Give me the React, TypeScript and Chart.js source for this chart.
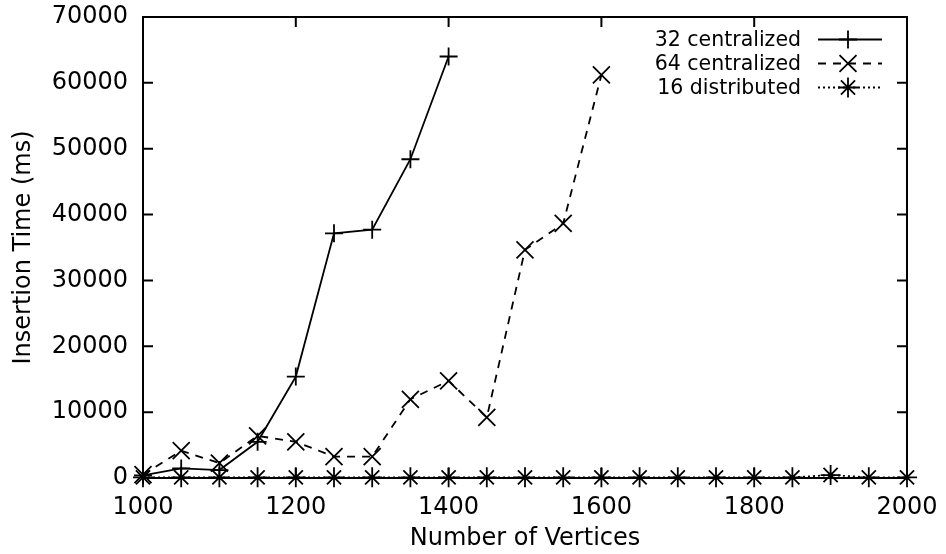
import React, { useEffect, useRef } from 'react';
import { Chart, registerables } from 'chart.js';
import { drawPoint } from 'chart.js/helpers';

Chart.register(...registerables);

const FONT_FAMILY = '"DejaVu Sans", sans-serif';

// Number of vertices (x) for each series
const vertices32 = [1000, 1050, 1100, 1150, 1200, 1250, 1300, 1350, 1400];
const vertices64 = [1000, 1050, 1100, 1150, 1200, 1250, 1300, 1350, 1400, 1450, 1500, 1550, 1600];
const vertices16 = [1000, 1050, 1100, 1150, 1200, 1250, 1300, 1350, 1400, 1450, 1500, 1550, 1600, 1650, 1700, 1750, 1800, 1850, 1900, 1950, 2000];

// Insertion time (ms)
const time32 = [400, 1450, 1200, 5500, 15400, 37150, 37700, 48400, 64000];
const time64 = [500, 4150, 2250, 6400, 5500, 3250, 3250, 11950, 14750, 9200, 34650, 38650, 61200];
const time16 = [100, 100, 100, 100, 100, 100, 100, 100, 100, 100, 100, 100, 100, 100, 100, 100, 100, 100, 450, 100, 100];

const seriesLabels = ['32 centralized', '64 centralized', '16 distributed'];

const xMin = 1000;
const xMax = 2000;
const xStep = 200;
const yMin = 0;
const yMax = 70000;
const yStep = 10000;

const xTitle = 'Number of Vertices';
const yTitle = 'Insertion Time (ms)';

const toPoints = (xs: number[], ys: number[]) => xs.map((x, i) => ({ x, y: ys[i] }));

const framePlugin = {
  id: 'gnuplotFrame',
  beforeDatasetsDraw(chart: any) {
    const { ctx, chartArea } = chart;
    const { left, right, top, bottom } = chartArea;
    const tick = 10;
    ctx.save();
    ctx.strokeStyle = '#000';
    ctx.lineWidth = 2;
    ctx.strokeRect(left, top, right - left, bottom - top);
    ctx.beginPath();
    const xs = chart.scales.x;
    const ys = chart.scales.y;
    xs.ticks.forEach((t: any) => {
      const px = xs.getPixelForValue(t.value);
      ctx.moveTo(px, bottom);
      ctx.lineTo(px, bottom - tick);
      ctx.moveTo(px, top);
      ctx.lineTo(px, top + tick);
    });
    ys.ticks.forEach((t: any) => {
      const py = ys.getPixelForValue(t.value);
      ctx.moveTo(left, py);
      ctx.lineTo(left + tick, py);
      ctx.moveTo(right, py);
      ctx.lineTo(right - tick, py);
    });
    ctx.stroke();
    ctx.restore();
  },
};

const legendPlugin = {
  id: 'gnuplotLegend',
  afterDatasetsDraw(chart: any) {
    const { ctx, chartArea } = chart;
    const textRight = chartArea.right - 106;
    const sampleStart = chartArea.right - 89;
    const sampleEnd = chartArea.right - 25;
    const markerX = chartArea.right - 59;
    const firstY = chartArea.top + 22.5;
    const rowH = 24;
    ctx.save();
    ctx.font = `20.5px ${FONT_FAMILY}`;
    ctx.textAlign = 'right';
    ctx.textBaseline = 'middle';
    ctx.fillStyle = '#000';
    chart.data.datasets.forEach((ds: any, i: number) => {
      const y = firstY + i * rowH;
      ctx.fillText(ds.label, textRight, y + 1);
      ctx.strokeStyle = '#000';
      ctx.lineWidth = ds.borderWidth;
      ctx.setLineDash(ds.borderDash || []);
      ctx.beginPath();
      ctx.moveTo(sampleStart, y);
      ctx.lineTo(sampleEnd, y);
      ctx.stroke();
      ctx.setLineDash([]);
      drawPoint(ctx, { pointStyle: ds.pointStyle, radius: ds.pointRadius, rotation: 0, borderWidth: ds.pointBorderWidth }, markerX, y);
    });
    ctx.restore();
  },
};

export default function App() {
  const ref = useRef<HTMLCanvasElement>(null);
  useEffect(() => {
    const tickFont = { family: FONT_FAMILY, size: 24 };
    const common = {
      borderColor: '#000',
      backgroundColor: '#000',
      borderWidth: 1.8,
      pointBorderWidth: 1.8,
      pointBorderColor: '#000',
      fill: false,
      tension: 0,
      clip: false,
    };
    const chart = new Chart(ref.current as HTMLCanvasElement, {
      type: 'line',
      data: {
        datasets: [
          {
            ...common,
            label: seriesLabels[0],
            data: toPoints(vertices32, time32),
            pointStyle: 'cross',
            pointRadius: 9,
          },
          {
            ...common,
            label: seriesLabels[1],
            data: toPoints(vertices64, time64),
            borderDash: [8, 7],
            pointStyle: 'crossRot',
            pointRadius: 12,
          },
          {
            ...common,
            label: seriesLabels[2],
            data: toPoints(vertices16, time16),
            borderDash: [2, 3],
            pointStyle: 'star',
            pointRadius: 10,
          },
        ],
      } as any,
      options: {
        animation: false,
        responsive: false,
        maintainAspectRatio: false,
        layout: { padding: { top: 17, right: 39, left: 0, bottom: 0 } },
        plugins: {
          legend: { display: false },
          tooltip: { enabled: false },
        },
        scales: {
          x: {
            type: 'linear',
            min: xMin,
            max: xMax,
            afterFit: (s: any) => {
              s.height = 76;
              s.paddingLeft = 0;
              s.paddingRight = 0;
              s.paddingTop = 0;
              s.paddingBottom = 0;
            },
            ticks: {
              stepSize: xStep,
              padding: 15,
              color: '#000',
              font: tickFont,
              maxRotation: 0,
              callback: (v: any) => String(v),
            },
            grid: { display: false, drawTicks: false },
            border: { display: false },
            title: {
              display: true,
              text: xTitle,
              color: '#000',
              font: tickFont,
              padding: { top: 0, bottom: 1 },
            },
          },
          y: {
            type: 'linear',
            min: yMin,
            max: yMax,
            afterFit: (s: any) => {
              s.width = 143;
              s.paddingLeft = 0;
              s.paddingRight = 0;
              s.paddingTop = 0;
              s.paddingBottom = 0;
            },
            ticks: {
              stepSize: yStep,
              padding: 15,
              color: '#000',
              font: tickFont,
              callback: (v: any) => String(v),
            },
            grid: { display: false, drawTicks: false },
            border: { display: false },
            title: {
              display: true,
              text: yTitle,
              color: '#000',
              font: tickFont,
              padding: { top: 9, bottom: 0 },
            },
          },
        },
      } as any,
      plugins: [framePlugin, legendPlugin],
    });
    return () => chart.destroy();
  }, []);
  return (
    <div style={{ position: 'fixed', left: 0, top: 0, width: 946, height: 554, background: '#fff' }}>
      <canvas ref={ref} width={946} height={554} style={{ display: 'block' }} />
    </div>
  );
}
